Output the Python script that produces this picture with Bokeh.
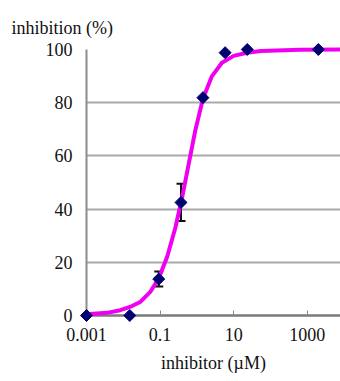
import numpy as np
from bokeh.plotting import figure
from bokeh.models import Range1d, FixedTicker, Whisker, ColumnDataSource, TeeHead
from bokeh.embed import file_html
from bokeh.resources import INLINE

# measured points
conc = [0.001, 0.015, 0.092, 0.37, 1.46, 5.86, 23.4, 2000]
inhib = [0.0, 0.0, 13.7, 42.5, 81.9, 98.8, 100.0, 100.0]
err = [0.0, 0.0, 2.8, 7.0, 0.0, 0.0, 0.0, 0.0]

# fitted curve
curve_x = [0.001, 0.0036, 0.0083, 0.0158, 0.0295, 0.055, 0.092, 0.155, 0.26,
           0.40, 0.60, 0.906, 1.46, 2.57, 4.79, 10.0, 22.9, 55.0, 630.0, 8000.0]
curve_y = [0.5, 1.0, 2.0, 3.3, 5.2, 9.0, 14.0, 22.0, 33.0,
           44.6, 57.0, 69.6, 81.5, 90.0, 95.0, 97.6, 98.8, 99.4, 99.9, 100.0]

x_ticks = [0.001, 0.1, 10, 1000]
x_tick_labels = ["0.001", "0.1", "10", "1000"]
y_ticks = [0, 20, 40, 60, 80, 100]

FONT = "Liberation Serif"

p = figure(width=340, height=381, x_axis_type="log",
           x_range=Range1d(0.001, 8000), y_range=Range1d(0, 100),
           output_backend="svg", toolbar_location=None,
           min_border_left=86, min_border_right=0, min_border_top=49, min_border_bottom=66)
p.outline_line_color = None
p.background_fill_color = "white"
p.border_fill_color = "white"

p.title.text = "inhibition (%)"
p.title.align = "left"
p.title.offset = -75
p.title.text_font = FONT
p.title.text_font_size = "18px"
p.title.text_font_style = "normal"
p.title.text_color = "#111111"
p.title.standoff = 24

p.xgrid.visible = False
p.ygrid.grid_line_color = "#aaaaaa"
p.ygrid.grid_line_width = 2

p.xaxis.ticker = FixedTicker(ticks=x_ticks, minor_ticks=[])
p.xaxis.major_label_overrides = {t: l for t, l in zip(x_ticks, x_tick_labels)}
p.xaxis.major_tick_in = 5
p.xaxis.major_tick_out = 0
p.xaxis.major_tick_line_color = "#888888"
p.xaxis.major_tick_line_width = 1
p.xaxis.minor_tick_line_color = None
p.xaxis.axis_line_color = "#7a7a7a"
p.xaxis.axis_line_width = 2.5
p.xaxis.major_label_standoff = 12
p.xaxis.axis_label = "inhibitor (\u00b5M)"
p.xaxis.axis_label_standoff = 9
p.xaxis.axis_label_text_font_style = "normal"

p.yaxis.ticker = FixedTicker(ticks=y_ticks, minor_ticks=[])
p.yaxis.major_tick_in = 0
p.yaxis.major_tick_out = 0
p.yaxis.minor_tick_line_color = None
p.yaxis.axis_line_color = "#8c8c8c"
p.yaxis.axis_line_width = 2
p.yaxis.major_label_standoff = 14

for ax in (p.xaxis[0], p.yaxis[0]):
    ax.major_label_text_font = FONT
    ax.major_label_text_font_size = "18px"
    ax.major_label_text_color = "#111111"
    ax.axis_label_text_font = FONT
    ax.axis_label_text_font_size = "18px"
    ax.axis_label_text_color = "#111111"

# error bars
ex = [c for c, e in zip(conc, err) if e > 0]
ey = [v for v, e in zip(inhib, err) if e > 0]
ee = [e for e in err if e > 0]
esrc = ColumnDataSource(dict(base=ex, upper=[v + e for v, e in zip(ey, ee)],
                             lower=[v - e for v, e in zip(ey, ee)]))
wh = Whisker(base="base", upper="upper", lower="lower", source=esrc, dimension="height",
             line_color="#111111", line_width=2,
             upper_head=TeeHead(size=9, line_color="#111111", line_width=2),
             lower_head=TeeHead(size=9, line_color="#111111", line_width=2))
p.add_layout(wh)

cr = p.line(curve_x, curve_y, line_color="#f000f0", line_width=4, line_join="round")
cr.level = "overlay"

mr = p.scatter(conc, inhib, marker="square", angle=np.pi / 4, size=8.5,
               fill_color="#000070", line_color="#000070")
mr.level = "overlay"

open("out.html", "w").write(file_html(p, INLINE))
